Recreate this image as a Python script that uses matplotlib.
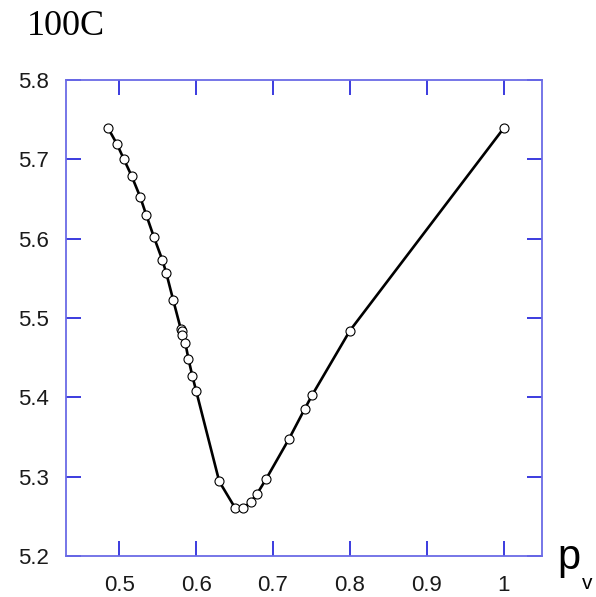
import matplotlib
matplotlib.use("Agg")
import matplotlib.pyplot as plt
from matplotlib.ticker import FixedLocator, FuncFormatter

pv = [0.485, 0.497, 0.506, 0.516, 0.527, 0.535, 0.545, 0.556, 0.561, 0.570,
      0.580, 0.581, 0.582, 0.586, 0.590, 0.595, 0.600, 0.630, 0.651, 0.661,
      0.671, 0.679, 0.691, 0.721, 0.741, 0.751, 0.800, 1.000]
val = [5.740, 5.719, 5.700, 5.679, 5.653, 5.630, 5.602, 5.573, 5.557, 5.523,
       5.486, 5.483, 5.479, 5.468, 5.448, 5.427, 5.408, 5.294, 5.260, 5.260,
       5.268, 5.278, 5.297, 5.348, 5.385, 5.403, 5.484, 5.739]
xticks = [0.5, 0.6, 0.7, 0.8, 0.9, 1.0]
yticks = [5.2, 5.3, 5.4, 5.5, 5.6, 5.7, 5.8]
title = "100C"
xlabel_main = "p"
xlabel_sub = "v"

W, H = 596, 597
fig = plt.figure(figsize=(W/100, H/100), dpi=100)
ax = fig.add_axes([66/W, 1-556/H, (542-66)/W, (556-80)/H])

ax.plot(pv, val, color="black", lw=1.9, marker="o", ms=6.5, mfc="white",
        mec="black", mew=0.8, zorder=3)
ax.set_xlim(0.4306, 1.05)
ax.set_ylim(5.2, 5.8)

spine_c = (0.42, 0.42, 0.9)
tick_c = (0.1, 0.1, 0.85)
for s in ax.spines.values():
    s.set_color(spine_c)
    s.set_linewidth(1.3)

ax.xaxis.set_major_locator(FixedLocator(xticks))
ax.yaxis.set_major_locator(FixedLocator(yticks))
ax.xaxis.set_major_formatter(FuncFormatter(lambda v, p: "1" if abs(v-1) < 1e-9 else f"{v:.1f}"))
ax.yaxis.set_major_formatter(FuncFormatter(lambda v, p: f"{v:.1f}"))
ax.tick_params(axis="both", direction="in", length=11, width=1.2, color=tick_c,
               top=True, right=True, labelsize=16, labelcolor="#1a1a1a")
ax.tick_params(axis="x", pad=14)
ax.tick_params(axis="y", pad=12)
for lab in ax.get_xticklabels() + ax.get_yticklabels():
    lab.set_family("Liberation Sans")

fig.text(27/W, 1-35/H, title, family="Liberation Serif", fontsize=26, ha="left", va="baseline")
fig.text(557/W, 1-569/H, xlabel_main, family="Liberation Sans", fontsize=30, ha="left", va="baseline")
fig.text(582/W, 1-589/H, xlabel_sub, family="Liberation Sans", fontsize=15, ha="left", va="baseline")

fig.savefig("out.png", dpi=100)
